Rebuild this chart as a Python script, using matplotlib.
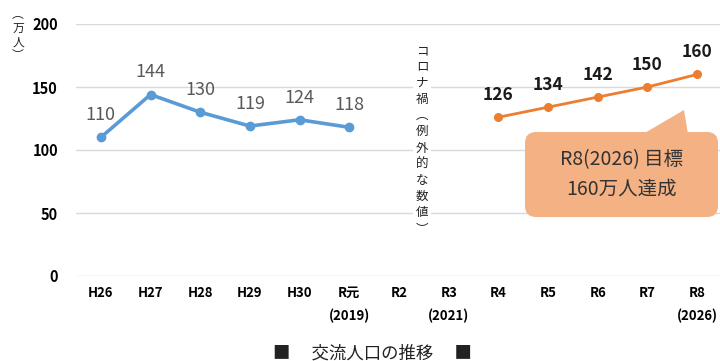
import matplotlib
matplotlib.use("Agg")
import matplotlib.pyplot as plt
from matplotlib.patches import FancyBboxPatch, Polygon
from matplotlib.transforms import IdentityTransform

plt.rcParams['font.family'] = ['Noto Sans CJK JP', 'DejaVu Sans']

categories = ['H26', 'H27', 'H28', 'H29', 'H30', 'R元\n(2019)', 'R2', 'R3\n(2021)',
              'R4', 'R5', 'R6', 'R7', 'R8\n(2026)']
actual_idx = [0, 1, 2, 3, 4, 5]
actual_vals = [110, 144, 130, 119, 124, 118]
target_idx = [8, 9, 10, 11, 12]
target_vals = [126, 134, 142, 150, 160]
yticks = [0, 50, 100, 150, 200]

BLUE = '#5B9BD5'
ORANGE = '#ED7D31'
BOXC = '#F4B183'

W, H = 720, 361
fig = plt.figure(figsize=(7.2, 3.61), dpi=100)
ax = fig.add_axes([76 / W, 1 - 276 / H, (722 - 76) / W, (276 - 24) / H])

ax.set_xlim(-0.5, len(categories) - 0.5)
ax.set_ylim(0, 200)
ax.set_yticks(yticks)
ax.set_yticklabels([str(v) for v in yticks], fontweight='bold', fontsize=10.5)
ax.set_xticks(range(len(categories)))
ax.set_xticklabels(categories, fontweight='bold', fontsize=9.5, linespacing=1.8)
ax.tick_params(axis='both', length=0)
ax.tick_params(axis='x', pad=7)
ax.tick_params(axis='y', pad=13)
for s in ax.spines.values():
    s.set_visible(False)
ax.grid(axis='y', color='#D9D9D9', linewidth=1)
ax.set_axisbelow(True)

ax.plot(actual_idx, actual_vals, color=BLUE, linewidth=2.6, marker='o', markersize=6, zorder=3)
ax.plot(target_idx, target_vals, color=ORANGE, linewidth=2, marker='o', markersize=5.5, zorder=3)

for x, v in zip(actual_idx, actual_vals):
    ax.annotate(str(v), (x, v), xytext=(0, 16), textcoords='offset points',
                ha='center', va='center', fontsize=13, color='#595959')
for x, v in zip(target_idx, target_vals):
    ax.annotate(str(v), (x, v), xytext=(0, 16), textcoords='offset points',
                ha='center', va='center', fontsize=12.5, color='#1a1a1a', fontweight='bold')

# Corona vertical note
corona = '\n'.join(['コ', 'ロ', 'ナ', '禍', '︵', '例', '外', '的', 'な', '数', '値', '︶'])
fig.text(422 / W, 1 - 140 / H, corona, ha='center', va='center', fontsize=9,
         linespacing=1.32, color='#222222',
         bbox=dict(facecolor='white', edgecolor='none', pad=2))

# y unit label
fig.text(18 / W, 1 - 35 / H, '︵\n万\n人\n︶', ha='center', va='center', fontsize=8.5,
         linespacing=1.05, color='#222222')

# callout
tr = IdentityTransform()
box = FancyBboxPatch((525, H - 217), 718 - 525, 217 - 132,
                     boxstyle='round,pad=0,rounding_size=11',
                     facecolor=BOXC, edgecolor='none', transform=tr, zorder=5)
fig.patches.append(box)
tail = Polygon([(643, H - 134), (688, H - 134), (684, H - 110)], closed=True,
               facecolor=BOXC, edgecolor='none', transform=tr, zorder=5)
fig.patches.append(tail)
fig.text(622 / W, 1 - 160 / H, 'R8(2026) 目標', ha='center', va='center',
         fontsize=14, color='#333333', zorder=6)
fig.text(622 / W, 1 - 189 / H, '160万人達成', ha='center', va='center',
         fontsize=14, color='#333333', zorder=6)

# bottom title
fig.text(372 / W, 1 - 353 / H, '■　 交流人口の推移 　■', ha='center', va='center',
         fontsize=12.5, color='#222222')

fig.savefig('out.png', dpi=100)
